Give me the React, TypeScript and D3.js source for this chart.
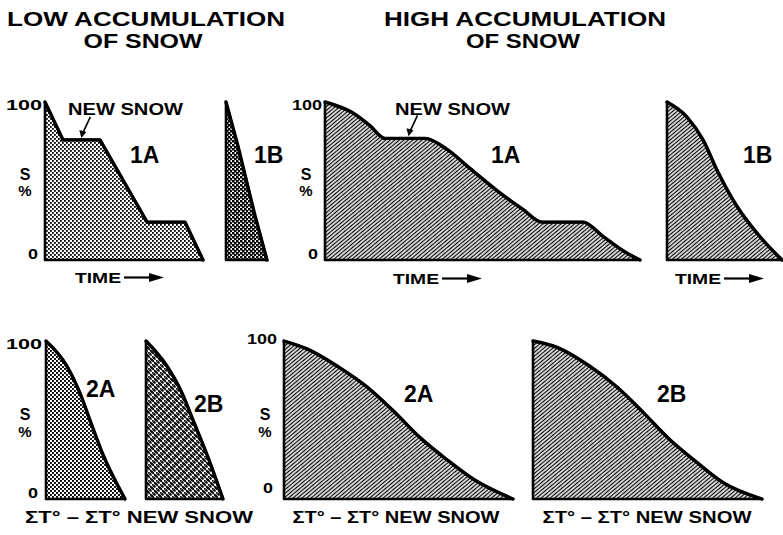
import React from 'react';
import * as d3 from 'd3';

// S% against time (or degree-day sum); x in arbitrary units
const low1A: [number, number][] = [[0, 100], [1.14, 76], [3.48, 76], [6.46, 24], [8.86, 24], [10, 0]];
const low1B: [number, number][] = [[0, 100], [0.76, 72], [1.84, 28], [2.6, 0]];
const high1A: [number, number][] = [
  [0, 100], [1.78, 93], [2.86, 85], [3.81, 77], [6.35, 77], [7.75, 70], [9.2, 58],
  [11.3, 41], [12.57, 32], [13.78, 24], [16.38, 24], [17.65, 15], [18.9, 6], [20, 0],
];
const high1B: [number, number][] = [[0, 100], [1.27, 90.5], [2.29, 76], [3.17, 57], [4.44, 34], [5.71, 17], [7.3, 0]];
const low2A: [number, number][] = [[0, 100], [1.33, 84], [2.15, 67], [2.78, 50], [3.61, 28], [5, 0]];
const low2B: [number, number][] = [[0, 100], [1.33, 84], [2.28, 67], [2.97, 50], [3.86, 28], [4.87, 0]];
const high2A: [number, number][] = [[0, 100], [1.46, 95], [3.54, 83], [5.25, 71], [6.9, 56], [8.6, 39], [10.3, 25], [12, 12.5], [14.5, 0]];
const high2B: [number, number][] = [[0, 100], [1.52, 96], [3.6, 84], [5.3, 71], [6.96, 55], [8.67, 37.5], [10.4, 23], [12, 10.6], [14.5, 0]];

const titles = ['LOW ACCUMULATION', 'OF SNOW', 'HIGH ACCUMULATION', 'OF SNOW'];
const yTicks = ['100', '0'];
const timeLabel = 'TIME';
const sumLabel = 'ΣT° – ΣT° NEW SNOW';
const newSnowLabel = 'NEW SNOW';

const rows = [
  { top: 102, bottom: 260 },
  { top: 341, bottom: 499 },
];

const panels = [
  { data: low1A, row: 0, left: 45, right: 203, fill: 'url(#stip)', smooth: false, label: '1A', lx: 130, ly: 163 },
  { data: low1B, row: 0, left: 226, right: 267, fill: 'url(#stipDark)', smooth: false, label: '1B', lx: 254, ly: 163 },
  { data: high1A, row: 0, left: 325, right: 640, fill: 'url(#hatch)', smooth: true, label: '1A', lx: 491, ly: 163 },
  { data: high1B, row: 0, left: 667, right: 782, fill: 'url(#hatch)', smooth: true, label: '1B', lx: 743, ly: 163 },
  { data: low2A, row: 1, left: 46, right: 125, fill: 'url(#stipCross)', smooth: true, label: '2A', lx: 86, ly: 397 },
  { data: low2B, row: 1, left: 146, right: 223, fill: 'url(#diamond)', smooth: true, label: '2B', lx: 194, ly: 412 },
  { data: high2A, row: 1, left: 284, right: 513, fill: 'url(#hatch)', smooth: true, label: '2A', lx: 404, ly: 402 },
  { data: high2B, row: 1, left: 533, right: 762, fill: 'url(#hatch)', smooth: true, label: '2B', lx: 657, ly: 402 },
];

const font = "'Liberation Sans', Arial, Helvetica, sans-serif";

const T = (p: any) => <text fontFamily={font} fontWeight="bold" fill="#000" {...p} />;

// checkerboard stipple dots inside an 8x8 tile
const dots = (size: number) =>
  d3.range(0, 8, 2).flatMap((yy) =>
    d3.range(0, 8, 4).map((xx) => {
      const ox = (yy / 2) % 2 === 0 ? 0 : 2;
      return <rect key={`${xx}-${yy}`} x={xx + ox} y={yy} width={size} height={size} fill="#000" />;
    })
  );

const TimeArrow = ({ x, y }: { x: number; y: number }) => (
  <g>
    <T x={x} y={y} fontSize={15.5} textLength={46} lengthAdjust="spacingAndGlyphs">{timeLabel}</T>
    <line x1={x + 49} x2={x + 78} y1={y - 5.5} y2={y - 5.5} stroke="#000" strokeWidth={2.2} />
    <path d={`M${x + 74},${y - 10} L${x + 89},${y - 5.5} L${x + 74},${y - 1} Z`} fill="#000" />
  </g>
);

const App: React.FC = () => {
  const built = panels.map((p) => {
    const r = rows[p.row];
    const xMax = d3.max(p.data, (d) => d[0])!;
    const x = d3.scaleLinear().domain([0, xMax]).range([p.left, p.right]);
    const y = d3.scaleLinear().domain([0, 100]).range([r.bottom, r.top]);
    const curve = p.smooth ? d3.curveMonotoneX : d3.curveLinear;
    const area = d3.area<[number, number]>().x((d) => x(d[0])).y0(y(0)).y1((d) => y(d[1])).curve(curve);
    const line = d3.line<[number, number]>().x((d) => x(d[0])).y((d) => y(d[1])).curve(curve);
    return { p, x, y, areaD: area(p.data)!, lineD: line(p.data)! };
  });

  const pointer = (bx: number, by: number) => (
    <g>
      <line x1={bx + 9} y1={by - 21} x2={bx + 2} y2={by - 6} stroke="#000" strokeWidth={1.6} />
      <path d={`M${bx - 2},${by - 8} L${bx},${by} L${bx + 5},${by - 6} Z`} fill="#000" />
    </g>
  );

  const b0 = built[0];
  const b2 = built[2];

  return (
    <svg width={783} height={535} style={{ position: 'absolute', left: 0, top: 0, background: '#fff' }}>
      <defs>
        <pattern id="stip" width={8} height={8} patternUnits="userSpaceOnUse">
          {dots(1.8)}
        </pattern>
        <pattern id="stipDark" width={8} height={8} patternUnits="userSpaceOnUse">
          {dots(2.5)}
        </pattern>
        <pattern id="stipCross" width={8} height={8} patternUnits="userSpaceOnUse">
          {dots(1.9)}
          <line x1={0} y1={0} x2={8} y2={8} stroke="#000" strokeWidth={0.9} opacity={0.55} />
        </pattern>
        <pattern id="diamond" width={8} height={8} patternUnits="userSpaceOnUse">
          {dots(1.7)}
          <line x1={-1} y1={-1} x2={9} y2={9} stroke="#000" strokeWidth={1.1} />
          <line x1={9} y1={-1} x2={-1} y2={9} stroke="#000" strokeWidth={1.1} />
        </pattern>
        <pattern id="hatch" width={2.9} height={2.9} patternUnits="userSpaceOnUse" patternTransform="rotate(-40)">
          <line x1={-1} y1={1.45} x2={4} y2={1.45} stroke="#000" strokeWidth={1.3} />
        </pattern>
      </defs>

      {/* titles */}
      <T x={146} y={26} fontSize={20} textAnchor="middle" textLength={278} lengthAdjust="spacingAndGlyphs">{titles[0]}</T>
      <T x={143} y={48} fontSize={20} textAnchor="middle" textLength={119} lengthAdjust="spacingAndGlyphs">{titles[1]}</T>
      <T x={525} y={26} fontSize={20} textAnchor="middle" textLength={282} lengthAdjust="spacingAndGlyphs">{titles[2]}</T>
      <T x={523} y={48} fontSize={20} textAnchor="middle" textLength={114} lengthAdjust="spacingAndGlyphs">{titles[3]}</T>

      {built.map(({ p, areaD, lineD }, i) => (
        <g key={i}>
          <path d={areaD} fill={p.fill} stroke="#000" strokeWidth={2.6} strokeLinejoin="round" />
          <path d={lineD} fill="none" stroke="#000" strokeWidth={3.4} strokeLinejoin="round" strokeLinecap="round" />
          <T x={p.lx} y={p.ly} fontSize={23}>{p.label}</T>
        </g>
      ))}

      {/* y axis labels */}
      {[
        { x: 42, row: 0, sx: 25 },
        { x: 322, row: 0, sx: 306 },
        { x: 42, row: 1, sx: 25 },
        { x: 277, row: 1, sx: 265 },
      ].map((a, i) => {
        const r = rows[a.row];
        const shift = a.row === 1 && a.x > 100 ? -5 : 0;
        return (
          <g key={i}>
            <T x={a.x} y={r.top + 8 + shift} fontSize={14} textAnchor="end" textLength={a.x > 100 ? 30 : 36} lengthAdjust="spacingAndGlyphs">{yTicks[0]}</T>
            <T x={a.x - 4} y={r.bottom - 1 + shift} fontSize={14} textAnchor="end" textLength={10} lengthAdjust="spacingAndGlyphs">{yTicks[1]}</T>
            <T x={a.sx} y={r.top + 78 + (a.row === 1 ? 1 : 0)} fontSize={16} textAnchor="middle">S</T>
            <T x={a.sx} y={r.top + 94 + (a.row === 1 ? 2 : 0)} fontSize={15} textAnchor="middle">%</T>
          </g>
        );
      })}

      {/* new snow annotations */}
      <T x={68} y={115} fontSize={16.5} textLength={115} lengthAdjust="spacingAndGlyphs">{newSnowLabel}</T>
      {pointer(b0.x(2.3), b0.y(76) - 2)}
      <T x={395} y={115} fontSize={16.5} textLength={115} lengthAdjust="spacingAndGlyphs">{newSnowLabel}</T>
      {pointer(b2.x(5.3), b2.y(77) - 2)}

      {/* x labels */}
      <TimeArrow x={75} y={283} />
      <TimeArrow x={393} y={284} />
      <TimeArrow x={675} y={284} />
      <T x={139} y={523} fontSize={17} textAnchor="middle" textLength={228} lengthAdjust="spacingAndGlyphs">{sumLabel}</T>
      <T x={396} y={523} fontSize={17} textAnchor="middle" textLength={207} lengthAdjust="spacingAndGlyphs">{sumLabel}</T>
      <T x={647} y={523} fontSize={17} textAnchor="middle" textLength={209} lengthAdjust="spacingAndGlyphs">{sumLabel}</T>
    </svg>
  );
};

export default App;
